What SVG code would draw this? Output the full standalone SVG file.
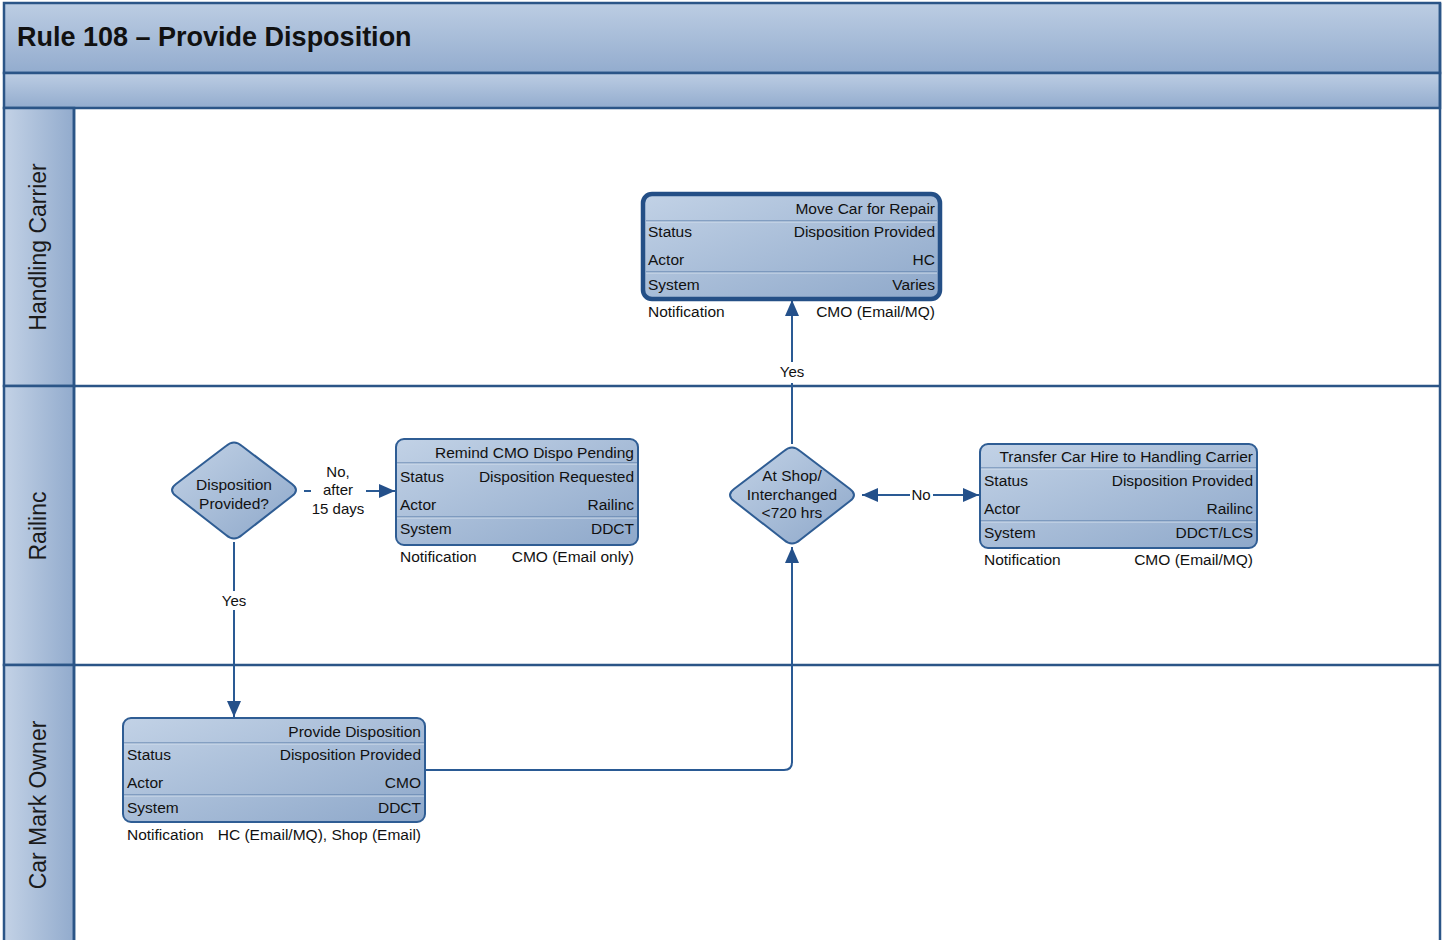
<svg xmlns="http://www.w3.org/2000/svg" width="1445" height="940" viewBox="0 0 1445 940">
  <defs>
    <linearGradient id="bandGrad" x1="0" y1="0" x2="0" y2="1">
      <stop offset="0" stop-color="#bccde3"/>
      <stop offset="1" stop-color="#93acce"/>
    </linearGradient>
    <linearGradient id="laneGrad" x1="0" y1="0" x2="1" y2="0">
      <stop offset="0" stop-color="#c3d2e6"/>
      <stop offset="1" stop-color="#92abcd"/>
    </linearGradient>
    <linearGradient id="nodeGrad" x1="0" y1="0" x2="1" y2="1">
      <stop offset="0" stop-color="#c2d2e6"/>
      <stop offset="1" stop-color="#8ea8ca"/>
    </linearGradient>
    <marker id="arrowBig" viewBox="0 0 16 14" refX="16" refY="7" markerWidth="16" markerHeight="14" markerUnits="userSpaceOnUse" orient="auto-start-reverse">
      <path d="M0,0 L16,7 L0,14 z" fill="#24508a"/>
    </marker>
  </defs>
  <style>
    text { font-family: "Liberation Sans", Arial, sans-serif; fill: #111; }
    .title { font-size: 27px; font-weight: bold; }
    .lane { font-size: 23px; fill: #1a1a1a; }
    .cell { font-size: 15.5px; }
    .r { text-anchor: end; }
    .c { text-anchor: middle; }
    .lbl { font-size: 15px; }
    .frame { stroke: #2b5587; stroke-width: 2.5; }
    .node { fill: url(#nodeGrad); stroke: #2f5d94; stroke-width: 2; }
    .nodeThick { fill: url(#nodeGrad); stroke: #244f86; stroke-width: 4.5; }
    .sep { stroke: #5579a6; stroke-width: 1.2; }
    .sepHi { stroke: #d2deec; stroke-width: 1; }
    .conn { fill: none; stroke: #2a5a94; stroke-width: 2; }
  </style>

  <!-- pool background -->
  <rect x="4" y="3" width="1436" height="940" fill="#ffffff"/>

  <!-- title band -->
  <rect x="4" y="3" width="1436" height="70" fill="url(#bandGrad)" class="frame"/>
  <text x="17" y="46" class="title">Rule 108 – Provide Disposition</text>
  <!-- phase band -->
  <rect x="4" y="73" width="1436" height="35" fill="url(#bandGrad)" class="frame"/>

  <!-- lanes -->
  <g id="lane-handling-carrier">
    <rect x="4" y="108" width="70" height="278" fill="url(#laneGrad)" class="frame"/>
    <text class="lane c" transform="translate(46,247) rotate(-90)">Handling Carrier</text>
  </g>
  <g id="lane-railinc">
    <rect x="4" y="386" width="70" height="279" fill="url(#laneGrad)" class="frame"/>
    <text class="lane c" transform="translate(46,526) rotate(-90)">Railinc</text>
  </g>
  <g id="lane-car-mark-owner">
    <rect x="4" y="665" width="70" height="280" fill="url(#laneGrad)" class="frame"/>
    <text class="lane c" transform="translate(46,805) rotate(-90)">Car Mark Owner</text>
  </g>
  <!-- lane dividers and outer border -->
  <line x1="74" y1="386" x2="1440" y2="386" class="frame"/>
  <line x1="74" y1="665" x2="1440" y2="665" class="frame"/>
  <line x1="1440" y1="3" x2="1440" y2="940" class="frame"/>
  <line x1="74" y1="108" x2="74" y2="940" class="frame"/>

  <!-- connectors -->
  <g id="connectors">
    <!-- Disposition Provided? -> Remind (No, after 15 days) -->
    <line x1="304" y1="491" x2="311" y2="491" class="conn"/>
    <line x1="366" y1="491" x2="395" y2="491" class="conn" marker-end="url(#arrowBig)"/>
    <text x="338" y="477" class="lbl c">No,</text>
    <text x="338" y="495" class="lbl c">after</text>
    <text x="338" y="514" class="lbl c">15 days</text>

    <!-- Disposition Provided? -> Provide Disposition (Yes) -->
    <line x1="234" y1="542" x2="234" y2="591" class="conn"/>
    <line x1="234" y1="610" x2="234" y2="717" class="conn" marker-end="url(#arrowBig)"/>
    <text x="234" y="606" class="lbl c">Yes</text>

    <!-- Provide Disposition -> At Shop/Interchanged -->
    <path d="M426,770 L784,770 Q792,770 792,762 L792,547" class="conn" marker-end="url(#arrowBig)"/>

    <!-- At Shop/Interchanged -> Move Car for Repair (Yes) -->
    <line x1="792" y1="444" x2="792" y2="383" class="conn"/>
    <line x1="792" y1="362" x2="792" y2="300" class="conn" marker-end="url(#arrowBig)"/>
    <text x="792" y="377" class="lbl c">Yes</text>

    <!-- At Shop/Interchanged <-> Transfer Car Hire (No) -->
    <line x1="862" y1="495" x2="910" y2="495" class="conn" marker-start="url(#arrowBig)"/>
    <line x1="933" y1="495" x2="979" y2="495" class="conn" marker-end="url(#arrowBig)"/>
    <text x="921" y="500" class="lbl c">No</text>
  </g>

  <!-- Move Car for Repair -->
  <g id="node-move-car">
    <rect x="643" y="194" width="297" height="105" rx="9" class="nodeThick"/>
    <line x1="646" y1="221" x2="937" y2="221" class="sep"/>
    <line x1="646" y1="222" x2="937" y2="222" class="sepHi"/>
    <line x1="646" y1="272" x2="937" y2="272" class="sep"/>
    <line x1="646" y1="273" x2="937" y2="273" class="sepHi"/>
    <text x="935" y="214" class="cell r">Move Car for Repair</text>
    <text x="648" y="237" class="cell">Status</text>
    <text x="935" y="237" class="cell r">Disposition Provided</text>
    <text x="648" y="265" class="cell">Actor</text>
    <text x="935" y="265" class="cell r">HC</text>
    <text x="648" y="290" class="cell">System</text>
    <text x="935" y="290" class="cell r">Varies</text>
    <text x="648" y="317" class="cell">Notification</text>
    <text x="935" y="317" class="cell r">CMO (Email/MQ)</text>
  </g>

  <!-- Disposition Provided? -->
  <g id="node-disposition-provided">
    <path d="M226,446 Q234,439 242,446 L292,484 Q300,490 292,496 L242,535 Q234,542 226,535 L176,496 Q168,490 176,484 Z" class="node"/>
    <text x="234" y="490" class="cell c">Disposition</text>
    <text x="234" y="509" class="cell c">Provided?</text>
  </g>

  <!-- Remind CMO Dispo Pending -->
  <g id="node-remind">
    <rect x="396" y="439" width="242" height="106" rx="8" class="node"/>
    <line x1="397" y1="463" x2="637" y2="463" class="sep"/>
    <line x1="397" y1="464" x2="637" y2="464" class="sepHi"/>
    <line x1="397" y1="517" x2="637" y2="517" class="sep"/>
    <line x1="397" y1="518" x2="637" y2="518" class="sepHi"/>
    <text x="634" y="458" class="cell r">Remind CMO Dispo Pending</text>
    <text x="400" y="482" class="cell">Status</text>
    <text x="634" y="482" class="cell r">Disposition Requested</text>
    <text x="400" y="510" class="cell">Actor</text>
    <text x="634" y="510" class="cell r">Railinc</text>
    <text x="400" y="534" class="cell">System</text>
    <text x="634" y="534" class="cell r">DDCT</text>
    <text x="400" y="562" class="cell">Notification</text>
    <text x="634" y="562" class="cell r">CMO (Email only)</text>
  </g>

  <!-- At Shop/Interchanged <720 hrs -->
  <g id="node-at-shop">
    <path d="M784,451 Q792,444 800,451 L850,489 Q858,495 850,501 L800,540 Q792,547 784,540 L734,501 Q726,495 734,489 Z" class="node"/>
    <text x="792" y="481" class="cell c">At Shop/</text>
    <text x="792" y="500" class="cell c">Interchanged</text>
    <text x="792" y="518" class="cell c">&lt;720 hrs</text>
  </g>

  <!-- Transfer Car Hire to Handling Carrier -->
  <g id="node-transfer">
    <rect x="980" y="444" width="277" height="104" rx="8" class="node"/>
    <line x1="981" y1="468" x2="1256" y2="468" class="sep"/>
    <line x1="981" y1="469" x2="1256" y2="469" class="sepHi"/>
    <line x1="981" y1="521" x2="1256" y2="521" class="sep"/>
    <line x1="981" y1="522" x2="1256" y2="522" class="sepHi"/>
    <text x="1253" y="462" class="cell r">Transfer Car Hire to Handling Carrier</text>
    <text x="984" y="486" class="cell">Status</text>
    <text x="1253" y="486" class="cell r">Disposition Provided</text>
    <text x="984" y="514" class="cell">Actor</text>
    <text x="1253" y="514" class="cell r">Railinc</text>
    <text x="984" y="538" class="cell">System</text>
    <text x="1253" y="538" class="cell r">DDCT/LCS</text>
    <text x="984" y="565" class="cell">Notification</text>
    <text x="1253" y="565" class="cell r">CMO (Email/MQ)</text>
  </g>

  <!-- Provide Disposition -->
  <g id="node-provide-disposition">
    <rect x="123" y="718" width="302" height="104" rx="8" class="node"/>
    <line x1="124" y1="743" x2="424" y2="743" class="sep"/>
    <line x1="124" y1="744" x2="424" y2="744" class="sepHi"/>
    <line x1="124" y1="795" x2="424" y2="795" class="sep"/>
    <line x1="124" y1="796" x2="424" y2="796" class="sepHi"/>
    <text x="421" y="737" class="cell r">Provide Disposition</text>
    <text x="127" y="760" class="cell">Status</text>
    <text x="421" y="760" class="cell r">Disposition Provided</text>
    <text x="127" y="788" class="cell">Actor</text>
    <text x="421" y="788" class="cell r">CMO</text>
    <text x="127" y="813" class="cell">System</text>
    <text x="421" y="813" class="cell r">DDCT</text>
    <text x="127" y="840" class="cell">Notification</text>
    <text x="421" y="840" class="cell r">HC (Email/MQ), Shop (Email)</text>
  </g>
</svg>
